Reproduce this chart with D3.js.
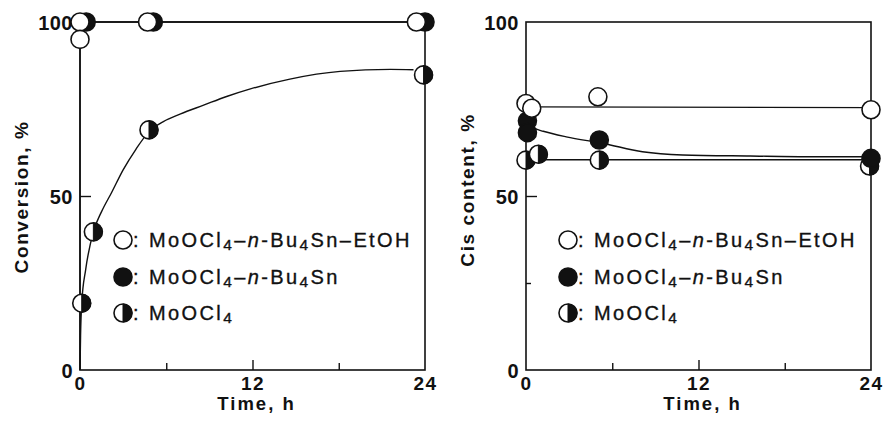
<!DOCTYPE html>
<html><head><meta charset="utf-8">
<script src="https://cdn.jsdelivr.net/npm/d3@7"></script>
<style>
html,body{margin:0;padding:0;background:#fff;}
svg{display:block;}
text{font-family:"Liberation Sans",Arial,Helvetica,sans-serif;fill:#111;}
</style></head>
<body><svg id="c" width="885" height="426"></svg>
<script>
// ---------- data ----------
const xTickValues = [0, 6, 12, 18, 24];
const xTickLabels = ["0", "", "12", "", "24"];
const yTickValues = [0, 25, 50, 75, 100];
const yTickLabels = ["0", "", "50", "", "100"];

const seriesNames = ["MoOCl4–n-Bu4Sn–EtOH", "MoOCl4–n-Bu4Sn", "MoOCl4"];

// Left panel: Conversion, %
const convTimeEtOH = [0, 0, 4.7, 23.4];
const convEtOH     = [100, 95, 100, 100];
const convTimeSn   = [0.43, 5.1, 24];
const convSn       = [100, 100, 100];
const convTimeMo   = [0.12, 0.93, 4.8, 23.9];
const convMo       = [19.2, 39.7, 69, 84.8];
// fitted lines
const convFitTopTime = [0, 0, 24];
const convFitTop     = [0, 100, 100];
const convFitMoTime  = [0, 0.04, 0.12, 0.4, 0.93, 1.5, 2.2, 3.0, 3.9, 4.8, 5.8, 7.0, 8.6, 10.2, 11.8, 14.6, 18.1, 21.6, 23.2];
const convFitMo      = [0, 10, 19.2, 29, 39.7, 45.5, 51, 57.5, 63.5, 68.5, 71.4, 73.6, 76.1, 78.6, 80.7, 83.6, 85.8, 86.4, 86.3];

// Right panel: Cis content, %
const cisTimeEtOH = [0, 0.4, 5, 24];
const cisEtOH     = [76.6, 75.2, 78.5, 74.8];
const cisTimeSn   = [0.1, 0.1, 5.1, 24];
const cisSn       = [71.6, 68.2, 66.1, 60.8];
const cisTimeMo   = [0, 0.86, 5.1, 23.9];
const cisMo       = [60.3, 62, 60.3, 58.6];
const cisFitEtOHTime = [0.3, 24];
const cisFitEtOH     = [75.6, 75.4];
const cisFitSnTime   = [0.3, 0.6, 1.2, 2.8, 5.4, 8.1, 10.9, 15.6, 20, 24];
const cisFitSn       = [70.2, 69.4, 68.6, 67, 65.1, 62.7, 61.8, 61.5, 61.3, 61.3];
const cisFitMoTime   = [0, 24];
const cisFitMo       = [60.4, 60.4];

// ---------- drawing ----------
const svg = d3.select("#c");
const R = 9;

function zip(a, b) { return a.map((v, i) => [v, b[i]]); }

function marker(g, cx, cy, type) {
  if (type === "open") {
    g.append("circle").attr("cx", cx).attr("cy", cy).attr("r", R)
      .attr("fill", "#fff").attr("stroke", "#111").attr("stroke-width", 1.6);
  } else if (type === "filled") {
    g.append("circle").attr("cx", cx).attr("cy", cy).attr("r", R)
      .attr("fill", "#111").attr("stroke", "#111").attr("stroke-width", 1.6);
  } else {
    g.append("circle").attr("cx", cx).attr("cy", cy).attr("r", R)
      .attr("fill", "#fff").attr("stroke", "#111").attr("stroke-width", 1.6);
    g.append("path")
      .attr("d", `M${cx},${cy - R} A${R},${R} 0 0 1 ${cx},${cy + R} Z`)
      .attr("fill", "#111").attr("stroke", "#111").attr("stroke-width", 1);
  }
}

function legendLabel(g, x, y, name) {
  const t = g.append("text").attr("x", x).attr("y", y)
    .attr("font-size", 20).attr("letter-spacing", 2.4)
    .attr("stroke", "#111").attr("stroke-width", 0.35);
  t.append("tspan").text(": MoOCl");
  t.append("tspan").attr("font-size", 15.5).attr("dy", 3).text("4");
  t.append("tspan").attr("dy", -3).text(name === "MoOCl4" ? "" : "–");
  if (name !== "MoOCl4") {
    t.append("tspan").attr("font-style", "italic").text("n");
    t.append("tspan").text("-Bu");
    t.append("tspan").attr("font-size", 15.5).attr("dy", 3).text("4");
    t.append("tspan").attr("dy", -3).text(name.endsWith("EtOH") ? "Sn–EtOH" : "Sn");
  }
}

function panel(opt) {
  const x = d3.scaleLinear().domain([0, 24]).range([opt.x0, opt.x0 + 345]);
  const y = d3.scaleLinear().domain([0, 100]).range([370, 22]);
  const g = svg.append("g");

  // frame
  g.append("rect").attr("x", x(0)).attr("y", y(100))
    .attr("width", x(24) - x(0)).attr("height", y(0) - y(100))
    .attr("fill", "none").attr("stroke", "#111").attr("stroke-width", 1.6);

  // x axis (inward ticks)
  const xa = g.append("g").attr("transform", `translate(0,${y(0)})`)
    .call(d3.axisBottom(x).tickValues(xTickValues)
      .tickSize(0).tickFormat((d, i) => xTickLabels[i]));
  xa.select(".domain").remove();
  xa.selectAll(".tick line").remove();
  xa.selectAll(".tick").append("line")
    .attr("y1", 0).attr("y2", d => d === 12 ? -10 : (d === 0 || d === 24 ? 0 : -7))
    .attr("stroke", "#111").attr("stroke-width", 1.4);
  xa.selectAll(".tick text").attr("y", 20).attr("dy", null)
    .attr("font-size", 19).attr("font-weight", "bold").attr("letter-spacing", 1.5)
    .attr("fill", "#111");

  // y axis
  const ya = g.append("g").attr("transform", `translate(${x(0)},0)`)
    .call(d3.axisLeft(y).tickValues(yTickValues)
      .tickSize(0).tickFormat((d, i) => yTickLabels[i]));
  ya.select(".domain").remove();
  ya.selectAll(".tick line").remove();
  ya.selectAll(".tick").filter(d => opt.yMinor || d === 50).append("line")
    .attr("x1", 0).attr("x2", d => d === 50 ? 11 : (d === 0 || d === 100 ? 0 : 5))
    .attr("stroke", "#111").attr("stroke-width", 1.4);
  ya.selectAll(".tick text").attr("x", -7).attr("dy", "0.36em")
    .attr("font-size", 20).attr("font-weight", "bold").attr("letter-spacing", 0.5)
    .attr("fill", "#111");

  // axis titles
  g.append("text").attr("x", (x(0) + x(24)) / 2 + 4).attr("y", 410)
    .attr("text-anchor", "middle").attr("font-size", 18.5).attr("font-weight", "bold")
    .attr("letter-spacing", 2).text("Time, h");
  g.append("text")
    .attr("transform", `translate(${opt.titleX},${opt.titleY}) rotate(-90)`)
    .attr("text-anchor", "middle").attr("font-size", 19).attr("font-weight", "bold")
    .attr("letter-spacing", 1.6).text(opt.title);

  // fitted lines
  const line = d3.line().x(d => x(d[0])).y(d => y(d[1]));
  opt.fits.forEach(f => {
    g.append("path").attr("d", line.curve(f.curve || d3.curveLinear)(zip(f.t, f.v)))
      .attr("fill", "none").attr("stroke", "#111").attr("stroke-width", 1.4);
  });

  // markers
  opt.series.forEach(s => {
    s.t.forEach((t, i) => marker(g, x(t), y(s.v[i]), s.type));
  });

  // legend
  const types = ["open", "filled", "half"];
  const rows = [240, 277, 313];
  types.forEach((tp, i) => {
    marker(g, opt.legX, rows[i], tp);
    legendLabel(g, opt.legX + 10, rows[i] + 7, seriesNames[i]);
  });
}

panel({
  x0: 80, title: "Conversion, %", titleX: 28, titleY: 197, yMinor: false, legX: 123,
  fits: [
    {t: convFitTopTime, v: convFitTop},
    {t: convFitMoTime, v: convFitMo, curve: d3.curveMonotoneX}
  ],
  series: [
    {t: convTimeSn, v: convSn, type: "filled"},
    {t: convTimeEtOH, v: convEtOH, type: "open"},
    {t: convTimeMo, v: convMo, type: "half"}
  ]
});

panel({
  x0: 526, title: "Cis content, %", titleX: 474, titleY: 190, yMinor: true, legX: 568,
  fits: [
    {t: cisFitEtOHTime, v: cisFitEtOH},
    {t: cisFitSnTime, v: cisFitSn, curve: d3.curveMonotoneX},
    {t: cisFitMoTime, v: cisFitMo}
  ],
  series: [
    {t: cisTimeMo, v: cisMo, type: "half"},
    {t: cisTimeSn, v: cisSn, type: "filled"},
    {t: cisTimeEtOH, v: cisEtOH, type: "open"}
  ]
});
</script></body></html>
